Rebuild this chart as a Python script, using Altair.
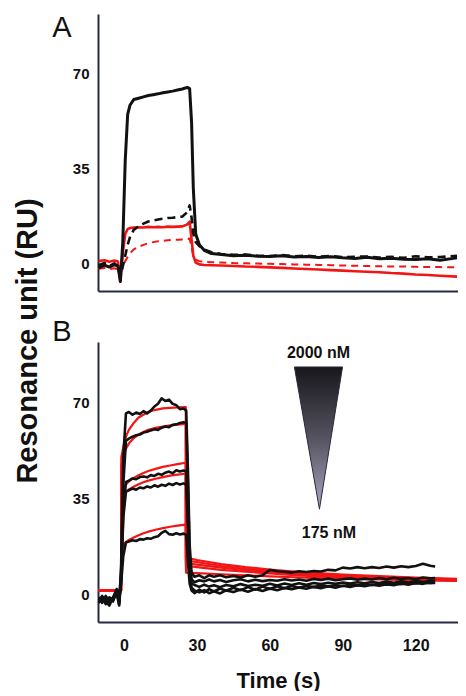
import altair as alt
import pandas as pd

FONT = "Liberation Sans"
AXIS_COLOR = "#262a44"
BLACK = "#111111"
RED = "#f21515"

# ---------------- Panel A data ----------------
tA = [-10.5, -8, -6, -4, -2.5, -1.5, -0.5, 0.5, 1.5, 2.5, 4, 6, 8, 10, 12, 14, 16, 18, 20, 22,
      24, 26, 27, 27.8, 28.5, 29.5, 31, 33, 36, 40, 45, 50, 55, 60, 65, 70, 75, 80, 85, 90,
      95, 100, 105, 110, 115, 120, 125, 130, 137]
a_black = [-1.5, -0.5, -1.2, -0.3, -0.8, -6.5, 8, 38, 55, 58.5, 60.5, 61, 61.5, 62, 62.3, 62.6, 63, 63.3, 63.6, 64,
           64.4, 65, 64.5, 52, 28, 11, 7, 5, 3.8, 3.4, 3.0, 3.2, 2.8, 2.7, 3.0, 2.5, 2.7, 2.3, 2.6, 2.2,
           2.0, 2.4, 1.9, 2.1, 1.7, 1.6, 1.9, 1.3, 2.2]
a_black_dash = [-0.5, 0.3, -0.8, 0.2, -1.0, -4.5, -1, 3, 7, 10, 12.5, 13.8, 14.8, 15.6, 16.0, 16.3, 16.6, 16.9, 17.0, 17.2,
                17.4, 19, 21.5, 17, 11, 8, 6.5, 5.3, 4.3, 3.6, 3.3, 3.4, 3.0, 2.9, 3.2, 2.8, 3.0, 2.6, 2.9, 2.5,
                2.6, 2.7, 2.3, 2.6, 2.2, 2.8, 2.4, 2.5, 3.0]
a_red = [1.0, 1.3, 0.8, 1.2, 0.9, -6.5, 4, 11, 12.8, 13.2, 13.4, 13.5, 13.4, 13.6, 13.5, 13.6, 13.5, 13.7, 13.6, 13.7,
         13.8, 14.5, 15.5, 9, 3, 0.5, -0.2, -0.4, -0.5, -0.6, -0.8, -1.0, -1.1, -1.3, -1.5, -1.7, -1.9, -2.1, -2.3, -2.5,
         -2.7, -2.9, -3.1, -3.4, -3.6, -3.9, -4.1, -4.4, -4.7]
a_red_dash = [-1.8, -1.5, -2.0, -1.6, -2.0, -3.5, -1.0, 1.0, 2.5, 3.8, 5.3, 6.3, 7.0, 7.6, 8.0, 8.3, 8.5, 8.7, 8.8, 8.9,
              9.0, 9.1, 9.3, 6, 3, 1.5, 1.0, 0.8, 0.6, 0.5, 0.3, 0.2, 0.1, 0.0, -0.1, -0.2, -0.3, -0.4, -0.5, -0.6,
              -0.7, -0.8, -0.9, -1.0, -1.0, -1.1, -1.2, -1.2, -1.3]

# ---------------- Panel B data ----------------
tB = [-10.5, -9, -7.5, -6, -4.5, -3, -2, -1.2, -0.3, 0.8, 2, 3.5, 5, 6.5, 8, 9.5, 11, 12.5, 14, 15.5,
      17, 18.5, 20, 21.5, 23, 24.5, 25.6, 26.3, 27, 27.8, 29, 31, 33, 35, 37, 39.5, 42, 45, 48, 51,
      54, 57, 60, 63, 66, 69, 72, 75, 78, 81, 84, 87, 90, 93, 96, 99, 102, 105, 108, 111,
      114, 117, 120, 123, 126, 128]
b1 = [-2.5, -0.5, -3, -1, -2, 1.5, -3.5, 10, 50, 66, 66.5, 65.5, 66.3, 65.8, 66.8, 66, 67, 68.5, 69.5, 71.5,
      70.5, 71, 69.5, 69, 67.5, 67.8, 67, 45, 18, 8, 6.5, 7, 6, 7, 6.5, 7, 6.3, 6.8, 6.2, 7,
      6.5, 7, 9, 8.5, 8.3, 8, 8.5, 8.2, 8.6, 8.4, 9, 8.8, 9.8, 9.5, 10, 9.6, 10, 9.7, 10.2, 9.8,
      10.3, 10, 10.4, 11.2, 10.5, 10.2]
b2 = [-1.5, -3, -0.5, -2.5, -1, 2, -2.5, 8, 40, 56, 56.8, 57.5, 58, 58.3, 59, 59.3, 59.8, 60.2, 60, 60.8,
      61.2, 61, 61.8, 62, 62.5, 62.8, 62.5, 40, 14, 5.5, 4.5, 5.2, 4.8, 5.5, 4.8, 5.3, 4.6, 5.2, 5.6, 4.8,
      5.4, 4.9, 5.3, 5.0, 5.6, 5.1, 5.5, 5.0, 5.7, 5.3, 5.8, 5.2, 5.6, 5.9, 5.4, 5.8, 5.5, 6.0, 5.6, 6.1,
      5.7, 6.0, 5.6, 6.2, 5.9, 6.0]
b3 = [-2, -1, -3.5, -1.5, -2.5, 1, -3, 6, 30, 41, 41.5, 42.3, 42, 42.8, 43, 42.7, 43.5, 43.2, 44, 43.6,
      44.4, 44.8, 44.2, 45.3, 44.8, 45.2, 44.8, 28, 10, 4, 3.5, 2.8, 3.6, 2.9, 3.4, 2.7, 3.5, 3.0, 3.8, 3.1,
      3.6, 3.2, 3.9, 3.3, 4.0, 3.5, 4.1, 3.6, 4.2, 3.8, 4.3, 3.9, 4.4, 4.0, 4.5, 4.1, 4.6, 4.2, 4.7, 4.3,
      4.8, 4.4, 4.9, 4.6, 5.0, 4.8]
b4 = [-3, -1.5, -2.5, -4, -1, 0.5, -4, 5, 28, 37.5, 38, 38.6, 38.2, 39, 38.7, 39.4, 39, 39.8, 39.3, 40,
      39.6, 40.4, 39.9, 40.6, 40.1, 40.5, 40, 25, 8, 2.5, 1.5, 0.8, 1.6, 0.5, 1.2, 0.4, 1.5, 0.9, 1.8, 1.0,
      2.0, 1.3, 2.2, 1.6, 2.4, 1.9, 2.6, 2.1, 2.8, 2.3, 3.0, 2.5, 3.2, 2.8, 3.4, 3.0, 3.6, 3.2, 3.8, 3.4,
      4.0, 3.6, 4.2, 3.9, 4.4, 4.2]
b5 = [-1, -2.5, -1.5, -3, -2, 1.5, -2, 4, 14, 19, 19.3, 19.8, 19.5, 20.2, 20, 20.5, 20.3, 20.9, 21.2, 22.5,
      23.2, 22, 21.8, 22.3, 21.9, 22.2, 21.8, 12, 4, 1.5, 0.5, 1.8, 0.8, 2.0, 1.1, 2.2, 1.4, 2.5, 1.6, 2.7,
      1.8, 2.9, 2.0, 3.0, 2.3, 3.1, 2.5, 3.2, 2.7, 3.3, 2.9, 3.4, 3.1, 3.6, 3.3, 3.7, 3.5, 3.9, 3.6, 4.0,
      3.8, 4.2, 4.0, 4.4, 4.1, 4.3]

tR = [-10.5, -1.2, -1.1, 0, 1, 2, 4, 6, 8, 10, 13, 16, 19, 22, 25.4, 25.5, 30, 40, 50, 60,
      70, 80, 90, 100, 110, 120, 130, 137]
r1 = [1.5, 1.5, 50, 55, 58, 60, 62.5, 64.5, 65.5, 66.5, 67.3, 67.8, 68, 68.2, 68.3, 13.5, 12.6, 11.1, 10.0, 9.1,
      8.4, 7.8, 7.3, 6.9, 6.5, 6.2, 5.9, 5.7]
r2 = [1.5, 1.5, 47, 51.5, 53.5, 55, 57, 58.3, 59.2, 60, 60.7, 61.2, 61.6, 61.9, 62.2, 12.5, 11.8, 10.4, 9.4, 8.6,
      7.9, 7.4, 6.9, 6.5, 6.2, 5.9, 5.7, 5.5]
r3 = [1.5, 1.5, 36, 39, 40.3, 41.2, 42.5, 43.5, 44.3, 45, 45.8, 46.5, 47, 47.5, 48, 11.5, 10.9, 9.8, 8.9, 8.2,
      7.5, 7.0, 6.6, 6.2, 5.9, 5.6, 5.4, 5.3]
r4 = [1.5, 1.5, 34, 36.5, 37.5, 38.3, 39.3, 40.2, 40.9, 41.5, 42.2, 42.8, 43.3, 43.7, 44, 10.5, 10.0, 9.0, 8.3, 7.7,
      7.1, 6.6, 6.2, 5.9, 5.6, 5.4, 5.2, 5.1]
r5 = [1.5, 1.5, 16, 18.5, 19.3, 19.9, 20.8, 21.6, 22.3, 22.9, 23.6, 24.2, 24.7, 25.1, 25.5, 8.0, 7.8, 7.4, 7.0, 6.6,
      6.3, 6.0, 5.8, 5.6, 5.4, 5.2, 5.1, 5.0]

# concentration wedge (2000 nM -> 175 nM)
wedge_v = [82.9, 31.1]
wedge_left = [70.1, 80.4]
wedge_right = [89.9, 80.4]
conc_labels = ["2000 nM", "175 nM"]
conc_t = [80.0, 84.3]
conc_v = [88.0, 22.6]

x_ticks = [0, 30, 60, 90, 120]
y_ticks = [0, 35, 70]


def long_df(t, series):
    rows = []
    for name, vals in series.items():
        for ti, vi in zip(t, vals):
            rows.append({"t": ti, "v": vi, "s": name})
    return pd.DataFrame(rows)


x_scale = alt.Scale(domain=[-10.7, 137.4], nice=False, zero=False)
y_scale = alt.Scale(domain=[-10, 92], nice=False, zero=False)

y_axis = alt.Axis(values=y_ticks, ticks=False, labelPadding=9, labelFontSize=15, labelFontWeight="bold",
                  labelColor="#111111", title=None, grid=False, domainColor=AXIS_COLOR, domainWidth=2)
xA_axis = alt.Axis(labels=False, ticks=False, title=None, grid=False, domainColor=AXIS_COLOR, domainWidth=2)
xB_axis = alt.Axis(values=x_ticks, ticks=False, labelPadding=15, labelFontSize=16, labelFontWeight="bold",
                   labelColor="#111111", title="Time (s)", titleFontSize=22, titleFontWeight="bold",
                   titleColor="#111111", titlePadding=17, grid=False, domainColor=AXIS_COLOR, domainWidth=2)


def line_layer(df, color, width, dash=None, x_axis=xA_axis):
    kw = dict(color=color, strokeWidth=width, clip=True, strokeJoin="round")
    if dash:
        kw["strokeDash"] = dash
    return alt.Chart(df).mark_line(**kw).encode(
        x=alt.X("t:Q", scale=x_scale, axis=x_axis),
        y=alt.Y("v:Q", scale=y_scale, axis=y_axis),
        detail="s:N",
    )


def letter(txt, y):
    return alt.Chart(pd.DataFrame({"l": [txt]})).mark_text(
        align="center", baseline="alphabetic", fontSize=29, font=FONT, color="#111111"
    ).encode(x=alt.value(-36), y=alt.value(y), text="l:N")


# Panel A
dfA_black = long_df(tA, {"black": a_black})
dfA_black_d = long_df(tA, {"black_d": a_black_dash})
dfA_red = long_df(tA, {"red": a_red})
dfA_red_d = long_df(tA, {"red_d": a_red_dash})

panelA = alt.layer(
    line_layer(dfA_red_d, RED, 2, [7, 5]),
    line_layer(dfA_red, RED, 2.6),
    line_layer(dfA_black_d, BLACK, 2.6, [8, 5]),
    line_layer(dfA_black, BLACK, 3),
    letter("A", 23),
).properties(width=360, height=277)

# Panel B
dfB_black = long_df(tB, {"b1": b1, "b2": b2, "b3": b3, "b4": b4, "b5": b5})
dfB_red = long_df(tR, {"r1": r1, "r2": r2, "r3": r3, "r4": r4, "r5": r5})

wedge_df = pd.DataFrame({"v": wedge_v, "l": wedge_left, "r": wedge_right})
wedge = alt.Chart(wedge_df).mark_area(
    orient="horizontal", stroke="#2a2a3a", strokeWidth=1,
    color=alt.Gradient(
        gradient="linear",
        stops=[alt.GradientStop(color="#17171c", offset=0),
               alt.GradientStop(color="#55535f", offset=0.5),
               alt.GradientStop(color="#aaa5c0", offset=1)],
        x1=0, x2=0, y1=0, y2=1),
).encode(
    y=alt.Y("v:Q", scale=y_scale, axis=y_axis),
    x=alt.X("l:Q", scale=x_scale, axis=xB_axis),
    x2="r:Q",
)

conc_df = pd.DataFrame({"label": conc_labels, "t": conc_t, "v": conc_v})
conc_text = alt.Chart(conc_df).mark_text(
    fontSize=16, fontWeight="bold", font=FONT, color="#111111", align="center", baseline="middle"
).encode(
    x=alt.X("t:Q", scale=x_scale, axis=xB_axis),
    y=alt.Y("v:Q", scale=y_scale, axis=y_axis),
    text="label:N",
)

ylabel = alt.Chart(pd.DataFrame({"l": ["Resonance unit (RU)"]})).mark_text(
    angle=270, align="center", baseline="middle", fontSize=29, fontWeight="bold", font=FONT, color="#111111"
).encode(x=alt.value(-70.5), y=alt.value(-1), text="l:N")

panelB = alt.layer(
    line_layer(dfB_red, RED, 2.2, x_axis=xB_axis),
    line_layer(dfB_black, BLACK, 2.6, x_axis=xB_axis),
    wedge,
    conc_text,
    letter("B", -1),
    ylabel,
).properties(width=360, height=280)

chart = alt.vconcat(panelA, panelB, spacing=51, bounds="flush").properties(
    padding={"left": 5, "top": 6, "right": 0, "bottom": 0}
).configure(font=FONT).configure_view(strokeWidth=0)

chart.save("out.html", embed_options={"renderer": "svg", "actions": False})
